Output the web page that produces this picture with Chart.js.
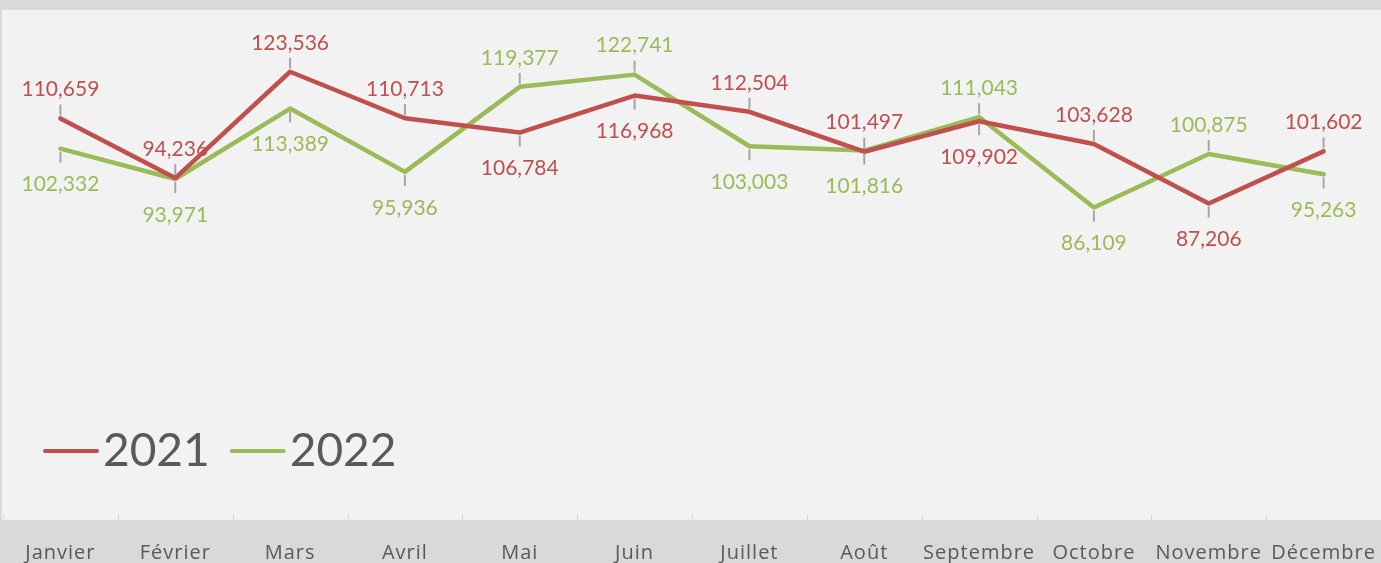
<!DOCTYPE html>
<html>
<head>
<meta charset="utf-8">
<script src="https://cdn.jsdelivr.net/npm/chart.js@4/dist/chart.umd.min.js"></script>
<style>
  html, body { margin: 0; padding: 0; background: #d9d9d9; }
  #wrap { width: 1381px; height: 563px; }
</style>
</head>
<body>
<div id="wrap"><canvas id="salesChart" width="1381" height="563"></canvas></div>
<script>
// Month labels on the x axis
const months = ['Janvier', 'Février', 'Mars', 'Avril', 'Mai', 'Juin', 'Juillet', 'Août', 'Septembre', 'Octobre', 'Novembre', 'Décembre'];

// Values per month for each year
const values2021 = [110659, 94236, 123536, 110713, 106784, 116968, 112504, 101497, 109902, 103628, 87206, 101602];
const values2022 = [102332, 93971, 113389, 95936, 119377, 122741, 103003, 101816, 111043, 86109, 100875, 95263];

// Hidden y axis range
const yMin = 0;
const yMax = 140000;

const red = '#c0504d';
const green = '#9bbb59';
const labelFont = '21px Lato';

// Paint the grey frame, the light plot area and the small boundary ticks
const backgroundPlugin = {
    id: 'background',
    beforeDraw(chart) {
        const ctx = chart.ctx;
        const area = chart.chartArea;
        ctx.save();
        ctx.fillStyle = '#d9d9d9';
        ctx.fillRect(0, 0, chart.width, chart.height);
        ctx.fillStyle = '#f2f2f2';
        ctx.fillRect(area.left - 1, 10, area.right - area.left + 1, area.bottom - 10);

        // tick marks between categories
        const step = (area.right - area.left) / months.length;
        ctx.strokeStyle = '#d9d9d9';
        ctx.lineWidth = 1;
        for (let i = 0; i <= months.length; i++) {
            const x = Math.round(area.left + i * step) + 0.5;
            ctx.beginPath();
            ctx.moveTo(x, area.bottom - 6);
            ctx.lineTo(x, area.bottom);
            ctx.stroke();
        }
        ctx.restore();
        // a bit of spacing for the month names
        ctx.letterSpacing = '1px';
    }
};

// Value labels with short leader lines, above the higher line and below the lower one
const valueLabelPlugin = {
    id: 'valueLabels',
    afterDatasetsDraw(chart) {
        const ctx = chart.ctx;
        ctx.letterSpacing = '0px';
        const data0 = chart.data.datasets[0].data;
        const data1 = chart.data.datasets[1].data;
        ctx.save();
        ctx.font = labelFont;
        ctx.textAlign = 'center';
        ctx.textBaseline = 'middle';
        chart.data.datasets.forEach((ds, dsIndex) => {
            const meta = chart.getDatasetMeta(dsIndex);
            meta.data.forEach((pt, i) => {
                // dataset 0 wins ties (the two lines nearly touch)
                const firstOnTop = data0[i] >= data1[i] - 1000;
                const above = dsIndex === 0 ? firstOnTop : !firstOnTop;
                const dir = above ? -1 : 1;

                // leader line
                ctx.strokeStyle = '#a6a6a6';
                ctx.lineWidth = 2;
                ctx.beginPath();
                ctx.moveTo(pt.x, pt.y + dir * 3);
                ctx.lineTo(pt.x, pt.y + dir * 14);
                ctx.stroke();

                ctx.fillStyle = ds.borderColor;
                const offset = above ? 29 : 36;
                ctx.fillText(ds.data[i].toLocaleString('en-US'), pt.x, pt.y + dir * offset);
            });
        });
        ctx.restore();
    }
};

// Big legend drawn inside the plot, bottom left
const bigLegendPlugin = {
    id: 'bigLegend',
    afterDraw(chart) {
        const ctx = chart.ctx;
        ctx.save();
        ctx.letterSpacing = '0px';
        ctx.font = '46px Lato';
        ctx.textBaseline = 'middle';
        let x = 45;
        const y = 451;
        chart.data.datasets.forEach(ds => {
            ctx.strokeStyle = ds.borderColor;
            ctx.lineWidth = 4;
            ctx.lineCap = 'round';
            ctx.beginPath();
            ctx.moveTo(x, y);
            ctx.lineTo(x + 52, y);
            ctx.stroke();
            ctx.fillStyle = '#595959';
            ctx.fillText(ds.label, x + 58, y);
            x += 58 + ctx.measureText(ds.label).width + 22;
        });
        ctx.restore();
    }
};

const ctx = document.getElementById('salesChart').getContext('2d');
new Chart(ctx, {
    type: 'line',
    data: {
        labels: months,
        datasets: [
            {
                label: '2021',
                data: values2021,
                borderColor: red,
                backgroundColor: red,
                borderWidth: 4.5,
                pointRadius: 0,
                borderJoinStyle: 'round',
                borderCapStyle: 'round',
                tension: 0
            },
            {
                label: '2022',
                data: values2022,
                borderColor: green,
                backgroundColor: green,
                borderWidth: 4.5,
                pointRadius: 0,
                borderJoinStyle: 'round',
                borderCapStyle: 'round',
                tension: 0
            }
        ]
    },
    options: {
        responsive: false,
        animation: false,
        devicePixelRatio: 1,
        layout: {
            padding: { top: 12, left: 3, right: 0, bottom: 0 }
        },
        plugins: {
            legend: { display: false },
            tooltip: { enabled: false }
        },
        scales: {
            x: {
                offset: true,
                grid: { display: false, drawTicks: false },
                border: { display: false },
                ticks: {
                    color: '#595959',
                    font: { family: 'Open Sans', size: 20 },
                    padding: 21,
                    maxRotation: 0,
                    autoSkip: false
                },
                // fixed axis band height, no extra side padding for the labels
                afterFit: function(scale) {
                    scale.height = 43;
                    scale.paddingLeft = 0;
                    scale.paddingRight = 0;
                }
            },
            y: {
                display: false,
                min: yMin,
                max: yMax
            }
        }
    },
    plugins: [backgroundPlugin, valueLabelPlugin, bigLegendPlugin]
});
</script>
</body>
</html>
